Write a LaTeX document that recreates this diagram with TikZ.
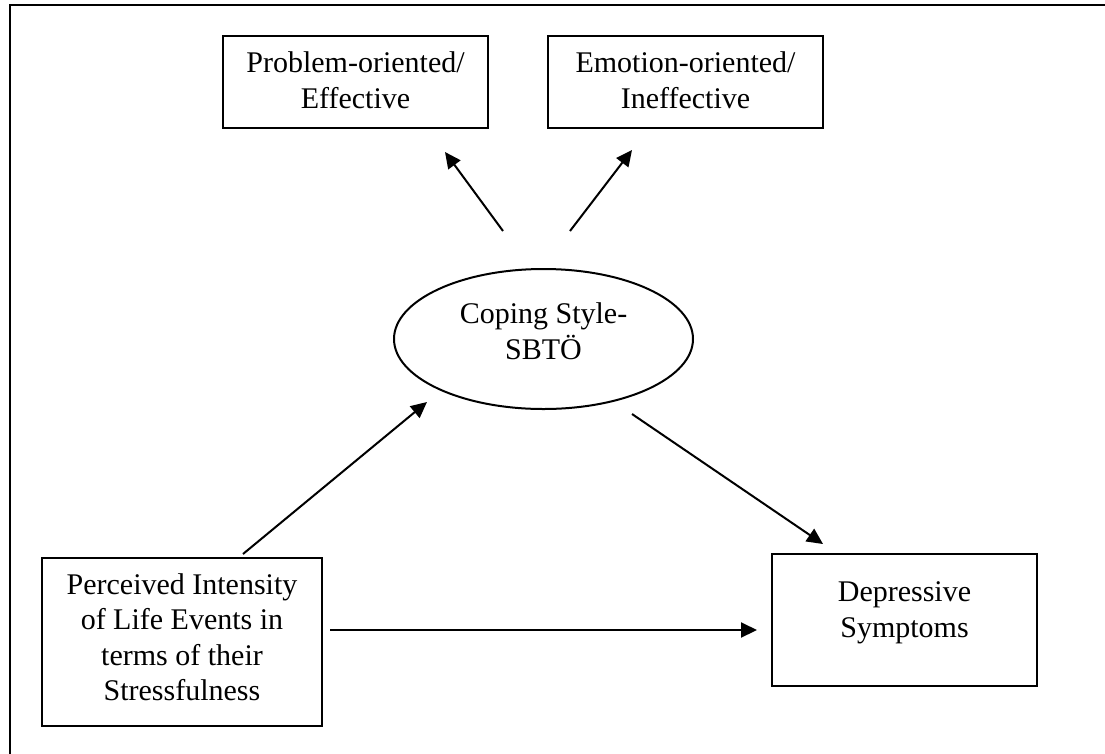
\documentclass[tikz,border=0pt]{standalone}
\usepackage{fontspec}
\setmainfont{Liberation Serif}
\usetikzlibrary{arrows.meta,shapes.geometric}

\tikzset{
  boxnode/.style={draw, line width=2pt, rectangle, inner sep=0pt},
  ovalnode/.style={draw, line width=2pt, ellipse, inner sep=0pt},
  label text/.style={align=center, inner sep=0pt,
    font=\fontsize{30}{35.5}\selectfont},
  link/.style={line width=2pt, -{Triangle[length=16pt,width=15pt]}},
}

\begin{document}
\begin{tikzpicture}[x=1pt, y=-1pt]
  \useasboundingbox (0,0) rectangle (1105,753);

  % outer frame (top and left edges)
  \draw[line width=2.4pt] (10,760) -- (10,5) -- (1110,5);

  % boxes
  \node[boxnode, minimum width=265pt, minimum height=92pt] (prob) at (355.5,82) {};
  \node[boxnode, minimum width=275pt, minimum height=92pt] (emo) at (685.5,82) {};
  \node[ovalnode, minimum width=299pt, minimum height=140pt] (cope) at (543.5,339) {};
  \node[boxnode, minimum width=280pt, minimum height=168pt] (perc) at (182,642) {};
  \node[boxnode, minimum width=265pt, minimum height=132pt] (dep) at (904.5,620) {};

  % texts
  \node[label text] (probtxt) at (355.5,80) {Problem-oriented/\\Effective};
  \node[label text] (emotxt) at (685.5,80) {Emotion-oriented/\\Ineffective};
  \node[label text] (copetxt) at (543.5,331) {Coping Style-\\SBTÖ};
  \node[label text] (perctxt) at (182,637) {Perceived Intensity\\of Life Events in\\terms of their\\Stressfulness};
  \node[label text] (deptxt) at (904.5,613) {Depressive\\Symptoms};

  % connector end points
  \coordinate (c1s) at (503,231);
  \coordinate (c1e) at (445,152);
  \coordinate (c2s) at (570,231);
  \coordinate (c2e) at (632,150);
  \coordinate (c3s) at (243,554);
  \coordinate (c3e) at (427,402);
  \coordinate (c4s) at (632,414);
  \coordinate (c4e) at (823,544);
  \coordinate (c5s) at (330,630);
  \coordinate (c5e) at (757,630);

  % connectors
  \draw[link] (c1s) -- (c1e);
  \draw[link] (c2s) -- (c2e);
  \draw[link] (c3s) -- (c3e);
  \draw[link] (c4s) -- (c4e);
  \draw[link] (c5s) -- (c5e);
\end{tikzpicture}
\end{document}
